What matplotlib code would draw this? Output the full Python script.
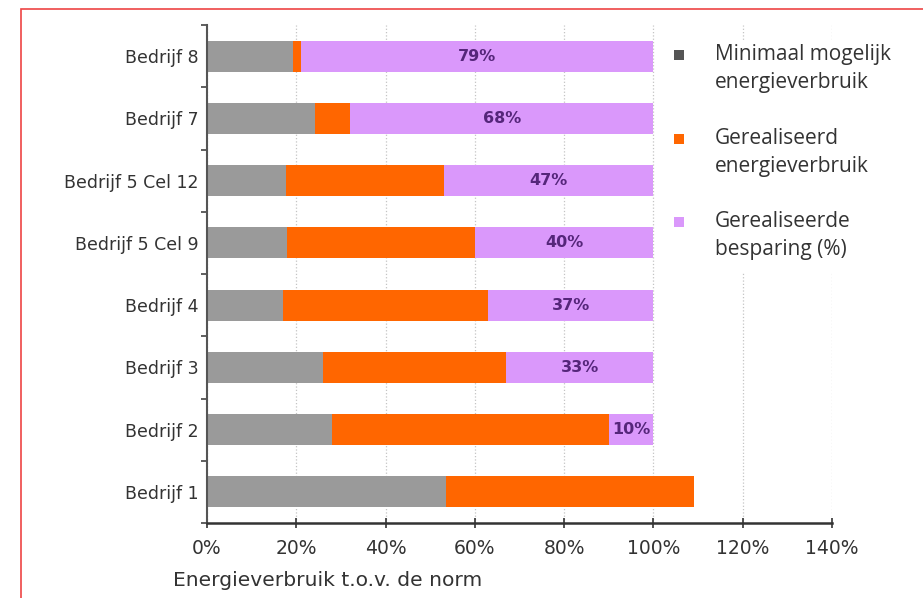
import matplotlib.pyplot as plt
from matplotlib.patches import Rectangle
import numpy as np

# data, bottom to top
bedrijven = ["Bedrijf 1", "Bedrijf 2", "Bedrijf 3", "Bedrijf 4",
             "Bedrijf 5 Cel 9", "Bedrijf 5 Cel 12", "Bedrijf 7", "Bedrijf 8"]
minimaal = [53.5, 28, 26, 17, 18, 17.7, 24.2, 19.3]
gerealiseerd = [109, 90, 67, 63, 60, 53, 32, 21]
besparing = [0, 10, 33, 37, 40, 47, 68, 79]

labels = ["Minimaal mogelijk\nenergieverbruik",
          "Gerealiseerd\nenergieverbruik",
          "Gerealiseerde\nbesparing (%)"]

GRAY = "#9a9a9a"
ORANGE = "#ff6600"
PURPLE = "#da98fb"


def main():
	plt.rcParams['font.family'] = ['DejaVu Sans']

	fig = plt.figure(figsize=(9.23, 5.98), dpi=100)
	ax = fig.add_axes([207/923, 75/598, 625/923, 498/598])

	y = np.arange(len(bedrijven))
	mini = np.array(minimaal)
	real = np.array(gerealiseerd)
	bes = np.array(besparing)
	h = 0.5

	ax.barh(y, mini, height=h, color=GRAY, zorder=2)
	ax.barh(y, real - mini, left=mini, height=h, color=ORANGE, zorder=2)
	bars = ax.barh(y, bes, left=real, height=h, color=PURPLE, zorder=2)

	for rect, b in zip(bars, besparing):
		if b > 0:
			ax.text(rect.get_x() + rect.get_width() / 2, rect.get_y() + h / 2,
					"%d%%" % b, ha='center', va='center', fontsize=11.5,
					fontweight='bold', color='#55267a', zorder=3)

	ax.set_xlim(0, 140)
	ax.set_ylim(-0.5, len(bedrijven) - 0.5)
	ax.set_xticks(np.arange(0, 141, 20))
	ax.set_xticklabels(["%d%%" % v for v in range(0, 141, 20)])
	ax.set_yticks(y)
	ax.set_yticklabels(bedrijven)
	ax.set_yticks(np.arange(-0.5, len(bedrijven)), minor=True)

	ax.tick_params(axis='y', which='major', length=0, pad=6,
				   labelsize=12.5, labelcolor='#333333')
	ax.tick_params(axis='y', which='minor', length=4, width=1.2, color='#444444')
	ax.tick_params(axis='x', direction='inout', length=7, width=1.2,
				   color='#333333', labelsize=13.5, labelcolor='#333333', pad=8)

	for s in ['top', 'right']:
		ax.spines[s].set_visible(False)
	ax.spines['left'].set_color('#555555')
	ax.spines['left'].set_linewidth(1.5)
	ax.spines['bottom'].set_color('#333333')
	ax.spines['bottom'].set_linewidth(1.8)

	ax.grid(axis='x', linestyle=':', color='#c4c4c4', linewidth=0.9)
	ax.set_axisbelow(True)

	fig.text(173/923, 1 - 580/598, "Energieverbruik t.o.v. de norm",
			 fontsize=14.6, color='#333333', ha='left', va='center')

	# legend area (white block over the grid)
	fig.add_artist(Rectangle((664/923, 1 - 272/598), 210/923, 232/598,
							 transform=fig.transFigure, facecolor='white',
							 edgecolor='none', zorder=5))
	markers = ["#555555", ORANGE, PURPLE]
	ys = [55, 139, 222]
	for c, lab, yy in zip(markers, labels, ys):
		fig.add_artist(Rectangle((674/923, 1 - (yy + 5) / 598), 10/923, 10/598,
								 transform=fig.transFigure, facecolor=c,
								 edgecolor='none', zorder=6))
		fig.text(715/923, 1 - (yy - 11) / 598, lab, fontsize=15,
				 family='Open Sans', color='#333333', ha='left', va='top',
				 linespacing=1.45, zorder=7)

	# red frame
	fig.add_artist(Rectangle((21/923, -0.1), 1.0, 1 - 9/598 + 0.1,
							 transform=fig.transFigure, facecolor='none',
							 edgecolor='#ee4444', linewidth=1.2, zorder=8))

	fig.savefig("out.png", dpi=100)


if __name__ == '__main__':
	main()
